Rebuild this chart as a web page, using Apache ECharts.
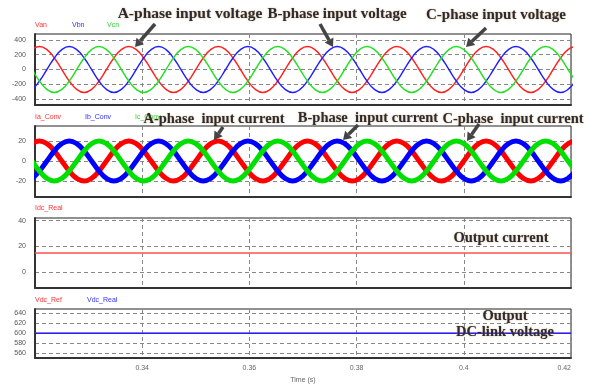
<!DOCTYPE html>
<html>
<head>
<meta charset="utf-8">
<script src="https://cdn.jsdelivr.net/npm/echarts@6/dist/echarts.min.js"></script>
<style>html,body{margin:0;padding:0;background:#fff}#c{width:592px;height:385px}</style>
</head>
<body>
<div id="c"></div>
<script>
// sample times (s), every 1/12 of a 60 Hz cycle
var time = [0.31667,0.31806,0.31944,0.32083,0.32222,0.32361,0.32500,0.32639,0.32778,0.32917,0.33056,0.33194,
 0.33333,0.33472,0.33611,0.33750,0.33889,0.34028,0.34167,0.34306,0.34444,0.34583,0.34722,0.34861,
 0.35000,0.35139,0.35278,0.35417,0.35556,0.35694,0.35833,0.35972,0.36111,0.36250,0.36389,0.36528,
 0.36667,0.36806,0.36944,0.37083,0.37222,0.37361,0.37500,0.37639,0.37778,0.37917,0.38056,0.38194,
 0.38333,0.38472,0.38611,0.38750,0.38889,0.39028,0.39167,0.39306,0.39444,0.39583,0.39722,0.39861,
 0.40000,0.40139,0.40278,0.40417,0.40556,0.40694,0.40833,0.40972,0.41111,0.41250,0.41389,0.41528,
 0.41667,0.41806,0.41944,0.42083];
var van = [0,156,269,311,269,156,0,-156,-269,-311,-269,-156,
 0,156,269,311,269,156,0,-156,-269,-311,-269,-156,
 0,156,269,311,269,156,0,-156,-269,-311,-269,-156,
 0,156,269,311,269,156,0,-156,-269,-311,-269,-156,
 0,156,269,311,269,156,0,-156,-269,-311,-269,-156,
 0,156,269,311,269,156,0,-156,-269,-311,-269,-156,
 0,156,269,311];
var vbn = [-269,-311,-269,-156,0,156,269,311,269,156,0,-156,
 -269,-311,-269,-156,0,156,269,311,269,156,0,-156,
 -269,-311,-269,-156,0,156,269,311,269,156,0,-156,
 -269,-311,-269,-156,0,156,269,311,269,156,0,-156,
 -269,-311,-269,-156,0,156,269,311,269,156,0,-156,
 -269,-311,-269,-156,0,156,269,311,269,156,0,-156,
 -269,-311,-269,-156];
var vcn = [269,156,0,-156,-269,-311,-269,-156,0,156,269,311,
 269,156,0,-156,-269,-311,-269,-156,0,156,269,311,
 269,156,0,-156,-269,-311,-269,-156,0,156,269,311,
 269,156,0,-156,-269,-311,-269,-156,0,156,269,311,
 269,156,0,-156,-269,-311,-269,-156,0,156,269,311,
 269,156,0,-156,-269,-311,-269,-156,0,156,269,311,
 269,156,0,-156];
var ia = [0,10,17.3,20,17.3,10,0,-10,-17.3,-20,-17.3,-10,
 0,10,17.3,20,17.3,10,0,-10,-17.3,-20,-17.3,-10,
 0,10,17.3,20,17.3,10,0,-10,-17.3,-20,-17.3,-10,
 0,10,17.3,20,17.3,10,0,-10,-17.3,-20,-17.3,-10,
 0,10,17.3,20,17.3,10,0,-10,-17.3,-20,-17.3,-10,
 0,10,17.3,20,17.3,10,0,-10,-17.3,-20,-17.3,-10,
 0,10,17.3,20];
var ib = [-17.3,-20,-17.3,-10,0,10,17.3,20,17.3,10,0,-10,
 -17.3,-20,-17.3,-10,0,10,17.3,20,17.3,10,0,-10,
 -17.3,-20,-17.3,-10,0,10,17.3,20,17.3,10,0,-10,
 -17.3,-20,-17.3,-10,0,10,17.3,20,17.3,10,0,-10,
 -17.3,-20,-17.3,-10,0,10,17.3,20,17.3,10,0,-10,
 -17.3,-20,-17.3,-10,0,10,17.3,20,17.3,10,0,-10,
 -17.3,-20,-17.3,-10];
var ic = [17.3,10,0,-10,-17.3,-20,-17.3,-10,0,10,17.3,20,
 17.3,10,0,-10,-17.3,-20,-17.3,-10,0,10,17.3,20,
 17.3,10,0,-10,-17.3,-20,-17.3,-10,0,10,17.3,20,
 17.3,10,0,-10,-17.3,-20,-17.3,-10,0,10,17.3,20,
 17.3,10,0,-10,-17.3,-20,-17.3,-10,0,10,17.3,20,
 17.3,10,0,-10,-17.3,-20,-17.3,-10,0,10,17.3,20,
 17.3,10,0,-10];
var dcTime = [0.32, 0.42];
var idcReal = [15, 15];
var vdcRef = [600, 600];
var vdcReal = [600, 600];
var vTicks = [-400, -200, 0, 200, 400];
var iTicks = [-20, 0, 20];
var idcTicks = [0, 20, 40];
var vdcTicks = [560, 580, 600, 620, 640];

function pairs(xs, ys){ return ys.map(function(y,i){ return [xs[i], y]; }); }

var chart = echarts.init(document.getElementById('c'), null, {renderer:'canvas'});
var dash = {type:[4,3], color:'#888', width:1};
var grids = [
  {left:35, top:34, width:536, height:71},
  {left:35, top:126, width:536, height:71},
  {left:35, top:218, width:536, height:70},
  {left:35, top:309, width:536, height:62}
].map(function(g){ g.show = true; g.borderColor = '#222'; g.borderWidth = 1; g.backgroundColor = '#fff'; return g; });

var xAxes = [0,1,2,3].map(function(i){
  return {
    type:'value', gridIndex:i, min:0.32, max:0.42, interval:0.02,
    axisLine:{show:true, onZero:false, lineStyle:{color:'#333', width:2}},
    axisTick:{show:false},
    splitLine:{show:true, lineStyle:dash},
    axisLabel:{show: i===3, fontSize:7, color:'#666', margin:7, showMinLabel:false, alignMaxLabel:'right',
      fontFamily:'Liberation Sans'},
    name: i===3 ? 'Time (s)' : '', nameLocation:'middle', nameGap:19,
    nameTextStyle:{fontSize:7, color:'#666', fontFamily:'Liberation Sans'}
  };
});
function yAx(i, min, max, ticks){
  return {
    type:'value', gridIndex:i, min:min, max:max,
    axisLine:{show:true, lineStyle:{color:'#333', width:2}},
    axisTick:{show:false, customValues:ticks},
    splitLine:{show:true, lineStyle:dash},
    axisLabel:{customValues:ticks, fontSize:7, color:'#555', margin:9, fontFamily:'Liberation Sans'}
  };
}
var yAxes = [yAx(0,-480,480,vTicks), yAx(1,-36,35,iTicks), yAx(2,-12,42,idcTicks), yAx(3,551,648,vdcTicks)];

function line(name, gi, xs, ys, color, w, smooth){
  return {name:name, type:'line', xAxisIndex:gi, yAxisIndex:gi, data:pairs(xs, ys),
    smooth:smooth, showSymbol:false, symbol:'none', lineStyle:{color:color, width:w}, animation:false, clip:true};
}
var series = [
  line('Van',0,time,van,'#ff2020',1.4,true),
  line('Vbn',0,time,vbn,'#2020ff',1.4,true),
  line('Vcn',0,time,vcn,'#20e020',1.4,true),
  line('Ia_Conv',1,time,ia,'#ff0000',5,true),
  line('Ib_Conv',1,time,ib,'#0000ff',5,true),
  line('Ic_Conv',1,time,ic,'#00e000',5,true),
  line('Idc_Real',2,dcTime,idcReal,'#ff5050',1.5,false),
  line('Vdc_Ref',3,dcTime,vdcRef,'#ff2020',0.8,false),
  line('Vdc_Real',3,dcTime,vdcReal,'#2020ff',1.6,false)
];

function lbl(text, x, y, color){
  return {type:'text', x:x, y:y, style:{text:text, fill:color, font:'7px "Liberation Sans"', textVerticalAlign:'middle'}};
}
function ann(text, cx, cy, size){
  return {type:'text', x:cx, y:cy, z:100, style:{text:text, fill:'#2a2a38', font:'bold '+(size||14.5)+'px "Liberation Serif"',
    textAlign:'center', textVerticalAlign:'middle', textShadowColor:'rgba(200,150,60,0.7)', textShadowBlur:2}};
}
function arrow(x1,y1,x2,y2){
  var dx=x2-x1, dy=y2-y1, L=Math.sqrt(dx*dx+dy*dy), ux=dx/L, uy=dy/L, hl=8, hw=5;
  var bx=x2-ux*hl, by=y2-uy*hl;
  return [
    {type:'line', z:100, shape:{x1:x1,y1:y1,x2:bx,y2:by}, style:{stroke:'#444', lineWidth:3.5}},
    {type:'polygon', z:100, shape:{points:[[x2,y2],[bx-uy*hw,by+ux*hw],[bx+uy*hw,by-ux*hw]]}, style:{fill:'#444'}}
  ];
}
function mask(x, y, w, h){
  return {type:'rect', z:90, shape:{x:x,y:y,width:w,height:h}, style:{fill:'#fff'}};
}
var graphic = [
  mask(28,120,6,82), mask(572,120,8,82),
  lbl('Van',35,25,'#ff3030'), lbl('Vbn',72,25,'#3030ff'), lbl('Vcn',107,25,'#30d030'),
  lbl('Ia_Conv',35,117,'#ff3030'), lbl('Ib_Conv',85,117,'#3030ff'), lbl('Ic_Conv',135,117,'#30d030'),
  lbl('Idc_Real',35,208,'#ff3030'),
  lbl('Vdc_Ref',35,300,'#ff3030'), lbl('Vdc_Real',87,300,'#3030ff'),
  ann('A-phase input voltage',190,14,15.5), ann('B-phase input voltage',337,14,15), ann('C-phase input voltage',496,15,15),
  ann('A-phase  input current',214,119), ann('B-phase  input current',368,118), ann('C-phase  input current',513,119),
  ann('Output current',501,238), ann('Output',505,316), ann('DC-link voltage',505,332)
].concat(arrow(155,24,135,47), arrow(320,24,333,47), arrow(486,28,466,47),
         arrow(223,127,214,140), arrow(358,125,343,140), arrow(479,124,467,141));

chart.setOption({
  animation:false, backgroundColor:'#fff',
  grid:grids, xAxis:xAxes, yAxis:yAxes, series:series, graphic:graphic
});
</script>
</body>
</html>
